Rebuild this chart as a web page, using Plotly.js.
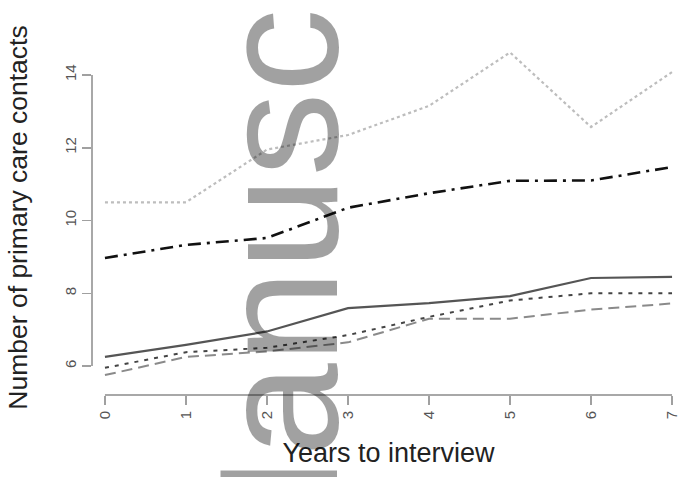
<!DOCTYPE html>
<html>
<head>
<meta charset="utf-8">
<script src="https://cdn.plot.ly/plotly-3.0.1.min.js"></script>
<style>
  html, body { margin: 0; padding: 0; background: #fff; }
  #chart { width: 686px; height: 477px; }
</style>
</head>
<body>
<div id="chart"></div>
<script>
// Years before interview
const years = [0, 1, 2, 3, 4, 5, 6, 7];
const yearLabels = ['0', '1', '2', '3', '4', '5', '6', '7'];

// Mean number of primary care contacts per group
const groupSolid   = [6.25, 6.58, 6.95, 7.59, 7.73, 7.92, 8.42, 8.45];
const groupShort   = [5.95, 6.38, 6.50, 6.85, 7.35, 7.80, 8.00, 8.00];
const groupLong    = [5.75, 6.25, 6.40, 6.65, 7.30, 7.30, 7.55, 7.72];
const groupDashDot = [8.97, 9.33, 9.52, 10.35, 10.75, 11.09, 11.10, 11.47];
const groupDotted  = [10.50, 10.50, 11.95, 12.35, 13.15, 14.62, 12.57, 14.08];

const yTicks = [6, 8, 10, 12, 14];

const traces = [
  { y: groupDotted,   color: '#bdbdbd', dash: 'dot',                    width: 2.2 },
  { y: groupDashDot,  color: '#111111', dash: '13px,6px,3px,6px',       width: 2.6 },
  { y: groupSolid,    color: '#555555', dash: 'solid',                  width: 2.2 },
  { y: groupShort,    color: '#444444', dash: '4px,6px',                width: 2.0 },
  { y: groupLong,     color: '#8a8a8a', dash: '11px,6px',               width: 2.0 }
].map(s => ({
  x: years,
  y: s.y,
  type: 'scatter',
  mode: 'lines',
  line: { color: s.color, dash: s.dash, width: s.width },
  hoverinfo: 'skip',
  showlegend: false
}));

const layout = {
  width: 686,
  height: 477,
  margin: { l: 92, r: 1, t: 40, b: 82 },
  paper_bgcolor: '#ffffff',
  plot_bgcolor: '#ffffff',
  font: { family: 'Liberation Sans, Arial, sans-serif', color: '#333' },
  xaxis: {
    range: [-0.16, 7.16],
    tickvals: years,
    ticktext: yearLabels,
    tickangle: -90,
    ticks: 'outside',
    ticklen: 9,
    tickwidth: 1.5,
    tickcolor: '#a0a0a0',
    tickfont: { size: 15, color: '#555' },
    showgrid: false,
    zeroline: false,
    showline: false,
    title: { text: 'Years to interview', font: { size: 27, color: '#222' }, standoff: 24 }
  },
  yaxis: {
    range: [5.203, 14.962],
    tickvals: yTicks,
    ticktext: yTicks.map(String),
    tickangle: -90,
    ticks: 'outside',
    ticklen: 9,
    tickwidth: 1.5,
    tickcolor: '#a0a0a0',
    tickfont: { size: 15, color: '#555' },
    showgrid: false,
    zeroline: false,
    showline: false,
    title: { text: 'Number of primary care contacts', font: { size: 26.5, color: '#222' }, standoff: 26 }
  },
  shapes: [
    // axis lines spanning only the tick range
    { type: 'line', xref: 'x', yref: 'paper', x0: 0, x1: 7, y0: 0, y1: 0,
      line: { color: '#a8a8a8', width: 2 } },
    { type: 'line', xref: 'paper', yref: 'y', x0: 0, x1: 0, y0: 6, y1: 14,
      line: { color: '#a8a8a8', width: 2 } }
  ],
  annotations: [
    {
      text: 'Manuscript',
      xref: 'paper', yref: 'paper',
      x: 0.314, y: 0.590,
      xanchor: 'center', yanchor: 'middle',
      textangle: -90,
      showarrow: false,
      font: { family: 'Liberation Sans, Arial, sans-serif', size: 168, color: 'rgba(0,0,0,0.37)' }
    }
  ]
};

Plotly.newPlot('chart', traces, layout, { staticPlot: true, displayModeBar: false });
</script>
</body>
</html>
